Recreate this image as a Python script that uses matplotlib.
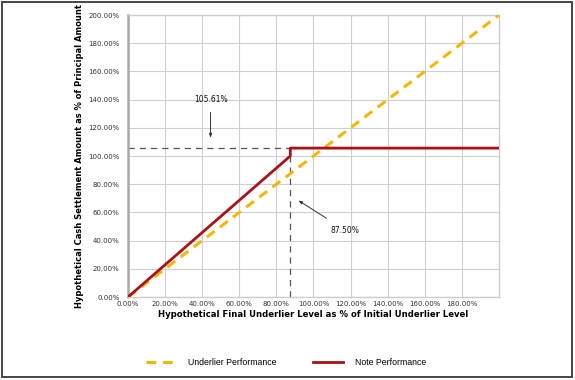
import matplotlib.pyplot as plt
from matplotlib.lines import Line2D
from matplotlib.patches import Rectangle

# data (% of initial / principal)
underlier_x = [0, 200]
underlier_y = [0, 200]
note_x = [0, 87.5, 87.5, 200]
note_y = [0, 100, 105.61, 105.61]
threshold = 87.5
cap = 105.61
x_ticks = [0, 20, 40, 60, 80, 100, 120, 140, 160, 180]
y_ticks = [0, 20, 40, 60, 80, 100, 120, 140, 160, 180, 200]

GOLD = "#F2B705"
RED = "#AA1118"

fig = plt.figure(figsize=(5.75, 3.8), dpi=100)
ax = fig.add_axes([0.2226, 0.2184, 0.6452, 0.7421])

ax.plot(underlier_x, underlier_y, color=GOLD, lw=2.2, ls=(0, (3.2, 2.2)), zorder=3)
ax.plot(note_x, note_y, color=RED, lw=2.0, zorder=4)

ax.plot([0, threshold], [cap, cap], color="#555555", lw=0.9, ls=(0, (5, 4)), zorder=2)
ax.plot([threshold, threshold], [0, cap], color="#555555", lw=0.9, ls=(0, (5, 4)), zorder=2)

ax.annotate("105.61%", xy=(44.5, 111), xytext=(44.5, 140), ha="center", va="center",
            fontsize=5.5, color="#111111",
            arrowprops=dict(arrowstyle="-|>,head_length=0.4,head_width=0.15",
                            color="#333333", lw=0.7, shrinkA=4))
ax.annotate("87.50%", xy=(90.6, 69.5), xytext=(117, 47.5), ha="center", va="center",
            fontsize=5.5, color="#111111",
            arrowprops=dict(arrowstyle="-|>,head_length=0.4,head_width=0.15",
                            color="#333333", lw=0.7, shrinkA=6))

ax.set_xlim(0, 200)
ax.set_ylim(0, 200)
ax.set_xticks(x_ticks)
ax.set_xticklabels([f"{v:.2f}%" for v in x_ticks])
ax.set_yticks(y_ticks)
ax.set_yticklabels([f"{v:.2f}%" for v in y_ticks])
ax.tick_params(labelsize=5, colors="#333333", length=0)
ax.tick_params(axis="x", pad=3)
ax.tick_params(axis="y", pad=6)
ax.grid(True, color="#cfcfcf", lw=0.8)
ax.set_axisbelow(True)
for side in ["top", "right", "bottom"]:
    ax.spines[side].set_color("#cccccc")
    ax.spines[side].set_linewidth(1.0)
ax.spines["left"].set_color("#a8a8a8")
ax.spines["left"].set_linewidth(1.8)

ax.set_xlabel("Hypothetical Final Underlier Level as % of Initial Underlier Level",
              fontsize=6.1, fontweight="bold", labelpad=2)
ax.set_ylabel("Hypothetical Cash Settlement Amount as % of Principal Amount",
              fontsize=6.0, fontweight="bold", labelpad=3)

handles = [
    Line2D([], [], color=GOLD, lw=2.2, ls=(0, (3.2, 2.2))),
    Line2D([], [], color=RED, lw=2.0),
]
fig.legend(handles, ["Underlier Performance", "Note Performance"],
           loc="center", bbox_to_anchor=(0.497, 0.047), ncol=2, frameon=False,
           prop={"family": "Liberation Sans", "size": 6.3},
           handlelength=3.4, columnspacing=4.2, handletextpad=1.4)

fig.patches.append(Rectangle((0.004, 0.008), 0.991, 0.986, transform=fig.transFigure,
                             fill=False, edgecolor="#444444", lw=1.4))

fig.savefig("out.png", dpi=100)
